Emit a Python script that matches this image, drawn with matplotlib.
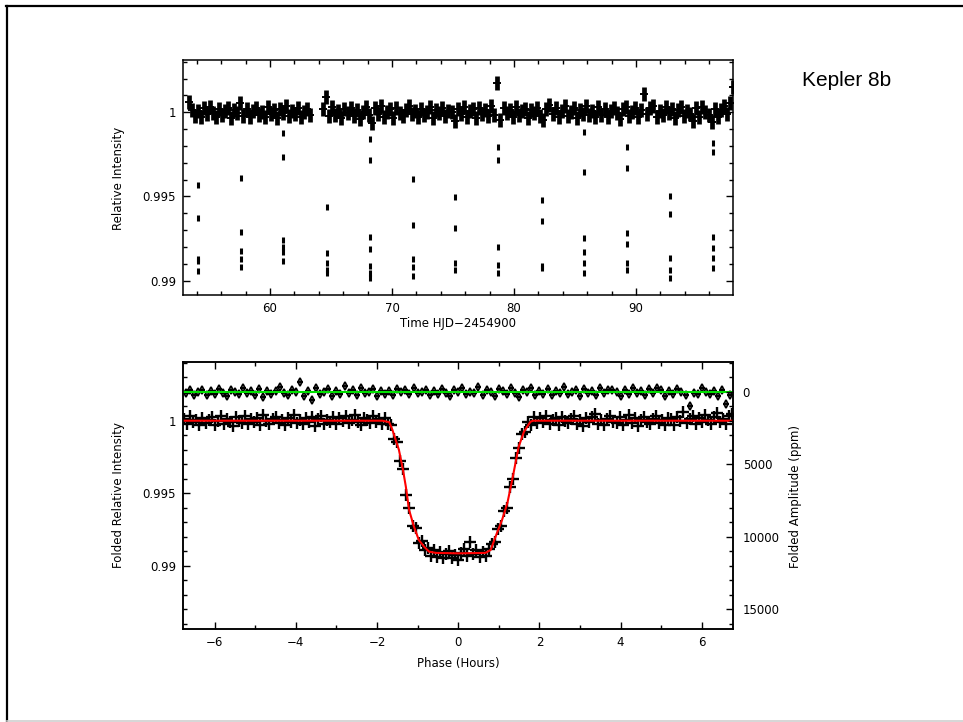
import numpy as np
import matplotlib.pyplot as plt
from matplotlib.lines import Line2D
from matplotlib.ticker import MultipleLocator, FuncFormatter

# ---- unfolded light curve (flux offsets in ppm about 1) ----
seg1_start, seg1_end = 53.35, 63.3
seg2_start, seg2_end = 64.35, 97.95

band1_ppm = [620, 150, -220, 80, -310, 240, -120, 330, -60, -280, 190, -150, 60, 280,
             -340, 110, -40, 520, -230, 170, -300, 90, 250, -180, 20, -260, 310, -90,
             140, -350, 200, -20, 360, -210, 70, -130, 280, -300, 40, 210, -160]

band2_ppm = [200, 900, -250, 310, -140, 60, -320, 180, -60, 270, -200, 120, -380, 40, 290,
             -170, -650, 230, -90, 340, -260, 10, 180, -330, 260, -40, -210, 150, 370, -120,
             80, -290, 220, -180, 30, 300, -350, 140, -70, 250, -230, 90, -10, -500, 200,
             -120, 330, -270, 60, 180, -340, 270, -80, 120, -220, 350, -150, 1720, -450, 240,
             -60, 160, -300, 300, -190, 50, 220, -360, 130, -30, 280, -240, -450, 190, 400,
             -110, 260, -280, 70, 340, -200, 10, 230, -330, 150, -90, 380, -170, 60, -260,
             300, -140, 200, -310, 100, 260, -50, -380, 170, 320, -220, 40, 250, -300, 130,
             1100, -80, 230, 360, -260, 90, -170, 290, -40, 200, -330, 140, 310, -200, 60,
             -120, -500, 240, -270, 330, 20, -160, -600, 210, -300, 150, 380, -90, 560, 1500]

# in-transit points, grouped by transit
transit_epochs = [54.07, 57.62, 61.04, 64.71, 68.2, 71.7, 75.2, 78.7, 82.26, 85.75, 89.29, 92.79, 96.34]
transit_flux = [
    [0.99568, 0.99374, 0.99129, 0.99117, 0.99059],
    [0.99612, 0.99287, 0.99176, 0.99127, 0.99083],
    [0.99875, 0.99733, 0.99242, 0.99202, 0.99172, 0.99119],
    [0.99439, 0.99163, 0.99103, 0.99064, 0.99048],
    [0.99840, 0.99717, 0.99261, 0.99188, 0.99087, 0.99044, 0.99014],
    [0.99602, 0.99331, 0.99127, 0.99083, 0.99028],
    [0.99499, 0.99315, 0.99103, 0.99064],
    [0.99796, 0.99717, 0.99198, 0.99093, 0.99044],
    [0.99479, 0.99355, 0.99087, 0.99075],
    [0.99881, 0.99647, 0.99255, 0.99172, 0.99103, 0.99048],
    [0.99796, 0.99671, 0.99281, 0.99216, 0.99103, 0.99064],
    [0.99505, 0.99396, 0.99133, 0.99064, 0.99018],
    [0.99820, 0.99766, 0.99261, 0.99192, 0.99133, 0.99075],
]

# ---- folded light curve (ppm about 1), phase in hours ----
fold_left_ppm = [150, -240, 310, -90, 40, -330, 200, -160, 80, 260, -280, -20, 350, -200, 120, -60,
                 -380, 230, 10, -150, 300, -250, 90, -110, 180, -320, 420, -40, -210, 140, 270, -170,
                 60, -300, 220, -90, 370, -140, 30, -260, 190, -60, 250, -350, 100, 310, -200, 20,
                 -120, 280, -230, 160, -40, 330, -190, 80, 400, -110, -270, 210, 40, -160, 290, -80]
fold_mid_ppm = [120, -210, 180, -260, -310, -1250, -1480, -2750, -3300, -5100, -6000, -7250, -7400,
                -8450, -8300, -8950, -8800, -9300, -8950, -9400, -9050, -9500, -9200, -9000, -9450,
                -9250, -9600, -9100, -8850, -9350, -8400, -9200, -8950, -9400, -9050, -9300, -8850,
                -8500, -8350, -7450, -7250, -6200, -6050, -4600, -4050, -2550, -1900, -950, -800,
                -120, -300, 240, -150]
fold_right_ppm = [210, -120, 350, -260, 40, 170, -330, 280, -50, -190, 120, 300, -240, 60, -380, 190,
                  -100, 250, 430, -210, 20, -300, 150, 330, -70, -160, 240, -280, 80, 380, -130, 180,
                  -350, 30, 270, -60, -220, 140, 320, -180, 50, -270, 200, 110, -320, 260, -40, 600,
                  -150, 90, 310, -230, 170, -90, 380, 20, -200, 240, 560, -110, 130, -250, 300, 450]

# fitted transit model
model_phase = [-6.77, -1.87, -1.70, -1.62, -1.46, -1.36, -1.29, -1.21, -1.09, -0.97, -0.84, -0.72,
               -0.55, 0.0, 0.67, 0.80, 0.92, 1.08, 1.21, 1.33, 1.41, 1.49, 1.62, 1.78, 1.85, 6.77]
model_flux = [1.0, 1.0, 0.99990, 0.99936, 0.99798, 0.99660, 0.99545, 0.99384, 0.99269, 0.99177,
              0.99131, 0.99097, 0.99088, 0.99085, 0.99088, 0.99108, 0.99200, 0.99315, 0.99430,
              0.99591, 0.99706, 0.99821, 0.99924, 0.99993, 1.0, 1.0]

# residuals (ppm, right-hand axis)
resid_ppm = [80, -150, 200, 20, -90, 260, -40, 130, -220, 60, 310, -120, 10, 170, -260, 90, -30, 240, -180, 380,
             -60, 150, -20, -310, 110, 200, -140, 40, -700, 270, -80, 560, -230, 130, 20, -180, 290, -50, 160, -400,
             70, -120, 230, -260, 90, 10, -200, 330, -70, 150, -30, 260, -170, 50, -110, 180, -290, 100, 20, -150,
             240, -60, 130, -220, 70, 300, -140, 30, -250, 190, -10, 120, -310, 220, -90, 50, 280, -180, -40, 160,
             -230, 80, 350, -120, 10, -280, 200, -60, 140, -170, 250, -20, 90, -330, 180, 40, -110, 270, -200, 70,
             -50, 210, -260, 120, -90, -150, 30, 310, -90, 170, -240, 60, -30, 230, -180, 100, -260, -120, 280, -70,
             150, -210, 40, 260, 1000, 90, 190, -280, 20, 140, -60, 330, -100, 850, 200]

resid_zero = 1.002   # flux level of the 0 ppm line

plt.rcParams['font.family'] = 'DejaVu Sans'
plt.rcParams['font.size'] = 8.5

fig = plt.figure(figsize=(9.63, 7.22), dpi=100)

W, H = 963.0, 722.0
def frame(x0, y0, x1, y1):
    return [x0 / W, 1 - y1 / H, (x1 - x0) / W, (y1 - y0) / H]

ink = 'black'
tick_kw = dict(direction='in', colors=ink, width=1.0)

def g_fmt(v, pos):
    return f'{v:g}'

# ---------------- top panel ----------------
ax1 = fig.add_axes(frame(183, 60, 733, 295))
t1 = np.linspace(seg1_start, seg1_end, len(band1_ppm))
t2 = np.linspace(seg2_start, seg2_end, len(band2_ppm))
band_t = np.concatenate([t1, t2])
band_f = 1 + np.array(band1_ppm + band2_ppm) * 1e-6
ax1.plot(band_t, band_f, '|', color=ink, ms=10, mew=3.4)
ax1.plot(band_t, band_f, '+', color=ink, ms=6, mew=1.4)
for ep, fl in zip(transit_epochs, transit_flux):
    ax1.plot([ep] * len(fl), fl, '|', color=ink, ms=4.5, mew=2.2)

ax1.set_xlim(52.87, 97.95)
ax1.set_ylim(0.98915, 1.0031)
ax1.xaxis.set_major_locator(MultipleLocator(10))
ax1.xaxis.set_minor_locator(MultipleLocator(2))
ax1.yaxis.set_major_locator(MultipleLocator(0.005))
ax1.yaxis.set_minor_locator(MultipleLocator(0.001))
ax1.yaxis.set_major_formatter(FuncFormatter(g_fmt))
ax1.tick_params(which='both', top=True, right=True, **tick_kw)
ax1.tick_params(which='major', length=5, pad=5)
ax1.tick_params(which='minor', length=3)

# ---------------- bottom panel ----------------
ax2 = fig.add_axes(frame(183, 361.7, 733, 629.3))
ph_left = np.linspace(-6.75, -2.025, len(fold_left_ppm))
ph_mid = np.linspace(-1.95, 1.95, len(fold_mid_ppm))
ph_right = np.linspace(2.025, 6.75, len(fold_right_ppm))
fold_ph = np.concatenate([ph_left, ph_mid, ph_right])
fold_f = 1 + np.array(fold_left_ppm + fold_mid_ppm + fold_right_ppm) * 1e-6
ax2.plot(fold_ph, fold_f, '+', color=ink, ms=8.5, mew=1.7, zorder=2)

res_ph = np.linspace(-6.7, 6.7, len(resid_ppm))
res_f = resid_zero - np.array(resid_ppm) * 1e-6
ax2.plot(res_ph, res_f, 'd', color=ink, ms=4, mfc='none', mew=1.3, zorder=2)
ax2.plot(res_ph, res_f, '_', color=ink, ms=5, mew=1.5, zorder=2)

ax2.plot(model_phase, model_flux, color='#ff0000', lw=1.5, zorder=3)
ax2.axhline(resid_zero, color='#00e000', lw=1.5, zorder=3)

ylo, yhi = 0.98561, 1.00407
ax2.set_xlim(-6.78, 6.77)
ax2.set_ylim(ylo, yhi)
ax2.xaxis.set_major_locator(MultipleLocator(2))
ax2.xaxis.set_minor_locator(MultipleLocator(1))
ax2.yaxis.set_major_locator(MultipleLocator(0.005))
ax2.yaxis.set_minor_locator(MultipleLocator(0.001))
ax2.yaxis.set_major_formatter(FuncFormatter(g_fmt))
ax2.tick_params(which='both', top=True, right=False, **tick_kw)
ax2.tick_params(which='major', length=5, pad=5)
ax2.tick_params(which='minor', length=3)

# right-hand amplitude axis (ppm, increasing downward)
ax3 = ax2.twinx()
ax3.set_ylim((resid_zero - ylo) * 1e6, (resid_zero - yhi) * 1e6)
ax3.yaxis.set_major_locator(MultipleLocator(5000))
ax3.yaxis.set_minor_locator(MultipleLocator(1000))
ax3.tick_params(which='both', **tick_kw)
ax3.tick_params(which='major', length=5, pad=7)
ax3.tick_params(which='minor', length=3)

for ax in (ax1, ax2, ax3):
    for s in ax.spines.values():
        s.set_linewidth(1.1)

# axis labels
fig.text(118 / W, 1 - 178 / H, 'Relative Intensity', rotation=90, ha='center', va='center')
fig.text(458 / W, 1 - 323 / H, 'Time HJD\u22122454900', ha='center', va='center')
fig.text(118 / W, 1 - 495 / H, 'Folded Relative Intensity', rotation=90, ha='center', va='center')
fig.text(458 / W, 1 - 663 / H, 'Phase (Hours)', ha='center', va='center')
fig.text(795 / W, 1 - 497 / H, 'Folded Amplitude (ppm)', rotation=90, ha='center', va='center')

fig.text(802 / W, 1 - 81 / H, 'Kepler 8b', family='Liberation Sans', fontsize=15,
         ha='left', va='center')

# page frame
fig.add_artist(Line2D([6 / W, 1], [1 - 6 / H, 1 - 6 / H], color='black', lw=1.6))
fig.add_artist(Line2D([7 / W, 7 / W], [0, 1 - 6 / H], color='black', lw=1.6))
fig.add_artist(Line2D([7 / W, 1], [0.7 / H, 0.7 / H], color='#d0d0d0', lw=1.2))

fig.savefig('out.png', dpi=100)
